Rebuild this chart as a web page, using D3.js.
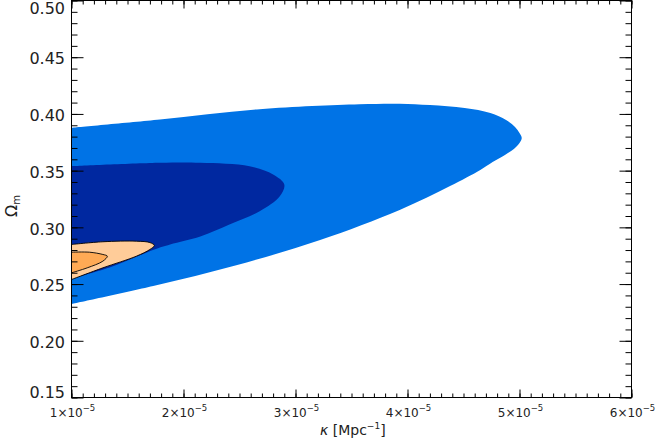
<!DOCTYPE html>
<html>
<head>
<meta charset="utf-8">
<script src="https://cdn.jsdelivr.net/npm/d3@7"></script>
<style>
  body { margin: 0; background: #fff; }
  text { font-family: "DejaVu Sans", sans-serif; fill: #222; }
</style>
</head>
<body>
<div id="chart"></div>
<script>
// kappa values are in units of 1e-5 Mpc^-1, pairs are [kappa, Omega_m]
var kappaUnit = 1e-5;

// outer blue contour
var blueOuter = [
  [1.00, 0.3878], [1.79, 0.3951], [2.68, 0.4042], [3.57, 0.4085], [3.93, 0.4090],
  [4.20, 0.4078], [4.51, 0.4052], [4.74, 0.4008], [4.88, 0.3946], [4.96, 0.3885],
  [5.00, 0.3832], [5.02, 0.3788], [5.00, 0.3744], [4.95, 0.3691], [4.87, 0.3638],
  [4.76, 0.3576], [4.65, 0.3506], [4.38, 0.3364], [3.93, 0.3153], [3.22, 0.2888],
  [2.48, 0.2668], [1.73, 0.2483], [1.00, 0.2324]
];

// inner blue contour
var blueInner = [
  [1.00, 0.3539], [1.79, 0.3569], [2.15, 0.3569], [2.59, 0.3539], [2.80, 0.3466],
  [2.90, 0.3378], [2.86, 0.3275], [2.68, 0.3142], [2.41, 0.3025], [2.15, 0.2919],
  [1.88, 0.2849], [1.74, 0.2805], [1.34, 0.2646], [1.00, 0.2549]
];

// outer orange contour
var orangeOuter = [
  [1.00, 0.2849], [1.28, 0.2873], [1.58, 0.2878], [1.70, 0.2866], [1.74, 0.2840],
  [1.70, 0.2805], [1.58, 0.2746], [1.28, 0.2643], [1.00, 0.2540]
];

// inner orange contour
var orangeInner = [
  [1.00, 0.2781], [1.16, 0.2781], [1.28, 0.2761], [1.32, 0.2746], [1.28, 0.2702],
  [1.14, 0.2643], [1.00, 0.2599]
];

var xTicks = [1, 2, 3, 4, 5, 6];
var yTicks = [0.15, 0.20, 0.25, 0.30, 0.35, 0.40, 0.45, 0.50];

(function() {
  var width = 656,
      height = 440;

  var svg = d3.select("#chart")
    .append("svg")
    .attr("width", width)
    .attr("height", height);

  var x = d3.scaleLinear()
    .domain([1e-5, 6e-5])
    .range([71.5, 631.5]);

  var y = d3.scaleLinear()
    .domain([0.15, 0.50])
    .range([397.5, 0.5]);

  svg.append("clipPath")
    .attr("id", "plotclip")
    .append("rect")
    .attr("x", x.range()[0])
    .attr("y", y.range()[1])
    .attr("width", x.range()[1] - x.range()[0])
    .attr("height", y.range()[0] - y.range()[1]);

  var line = d3.line()
    .x(function(d) { return x(d[0] * kappaUnit); })
    .y(function(d) { return y(d[1]); })
    .curve(d3.curveCatmullRom.alpha(0.5));

  var contours = [
    {pts: blueOuter, fill: "#0073e6", stroke: "none"},
    {pts: blueInner, fill: "#0028a0", stroke: "none"},
    {pts: orangeOuter, fill: "#ffcc99", stroke: "#000"},
    {pts: orangeInner, fill: "#ffaa55", stroke: "#000"}
  ];

  svg.append("g")
    .attr("clip-path", "url(#plotclip)")
    .selectAll("path")
    .data(contours)
    .enter().append("path")
    .attr("d", function(d) { return line(d.pts) + "Z"; })
    .attr("fill", function(d) { return d.fill; })
    .attr("stroke", function(d) { return d.stroke; })
    .attr("stroke-width", 0.9);

  // ticks on all four sides, pointing inward
  var xMinor = d3.range(10, 61).map(function(i) { return i / 10 * kappaUnit; });
  var xMajor = xTicks.map(function(v) { return v * kappaUnit; });
  var yMinor = d3.range(15, 51).map(function(i) { return i / 100; });

  function addAxis(axis, tx, ty) {
    var g = svg.append("g")
      .attr("transform", "translate(" + tx + "," + ty + ")")
      .call(axis.tickSizeOuter(0).tickFormat(""));
    g.select(".domain").remove();
    g.selectAll("line").attr("stroke", "#000");
  }

  addAxis(d3.axisBottom(x).tickValues(xMinor).tickSizeInner(-4), 0, y.range()[0]);
  addAxis(d3.axisBottom(x).tickValues(xMajor).tickSizeInner(-8), 0, y.range()[0]);
  addAxis(d3.axisTop(x).tickValues(xMinor).tickSizeInner(-4), 0, y.range()[1]);
  addAxis(d3.axisTop(x).tickValues(xMajor).tickSizeInner(-8), 0, y.range()[1]);
  addAxis(d3.axisLeft(y).tickValues(yMinor).tickSizeInner(-6), x.range()[0], 0);
  addAxis(d3.axisLeft(y).tickValues(yTicks).tickSizeInner(-12), x.range()[0], 0);
  addAxis(d3.axisRight(y).tickValues(yMinor).tickSizeInner(-6), x.range()[1], 0);
  addAxis(d3.axisRight(y).tickValues(yTicks).tickSizeInner(-12), x.range()[1], 0);

  svg.append("rect")
    .attr("x", x.range()[0])
    .attr("y", y.range()[1])
    .attr("width", x.range()[1] - x.range()[0])
    .attr("height", y.range()[0] - y.range()[1])
    .attr("fill", "none")
    .attr("stroke", "#000")
    .attr("stroke-width", 1);

  // y tick labels
  svg.selectAll(".ylab")
    .data(yTicks)
    .enter().append("text")
    .attr("class", "ylab")
    .attr("x", 65)
    .attr("y", function(d) { return Math.max(8.5, Math.min(392, y(d) + 1.5)); })
    .attr("dy", "0.36em")
    .attr("text-anchor", "end")
    .attr("font-size", 16)
    .text(function(d) { return d.toFixed(2); });

  // x tick labels
  var xl = svg.selectAll(".xlab")
    .data(xTicks)
    .enter().append("text")
    .attr("class", "xlab")
    .attr("x", function(d) { return x(d * kappaUnit) + 1; })
    .attr("y", 417)
    .attr("text-anchor", "middle")
    .attr("font-size", 12);
  xl.append("tspan").text(function(d) { return d + "\u00d710"; });
  xl.append("tspan")
    .attr("font-size", 8.5)
    .attr("dy", -6)
    .text("\u22125");

  // axis titles
  var xt = svg.append("text")
    .attr("x", 320)
    .attr("y", 435)
    .attr("font-size", 14);
  xt.append("tspan").attr("font-style", "italic").text("\u03ba");
  xt.append("tspan").text(" [Mpc");
  xt.append("tspan").attr("font-size", 9).attr("dy", -6).text("\u22121");
  xt.append("tspan").attr("dy", 6).text("]");

  var yt = svg.append("text")
    .attr("transform", "translate(17,217) rotate(-90)")
    .attr("font-size", 16);
  yt.append("tspan").text("\u03a9");
  yt.append("tspan").attr("font-size", 10).attr("dy", 3).text("m");
})();
</script>
</body>
</html>
